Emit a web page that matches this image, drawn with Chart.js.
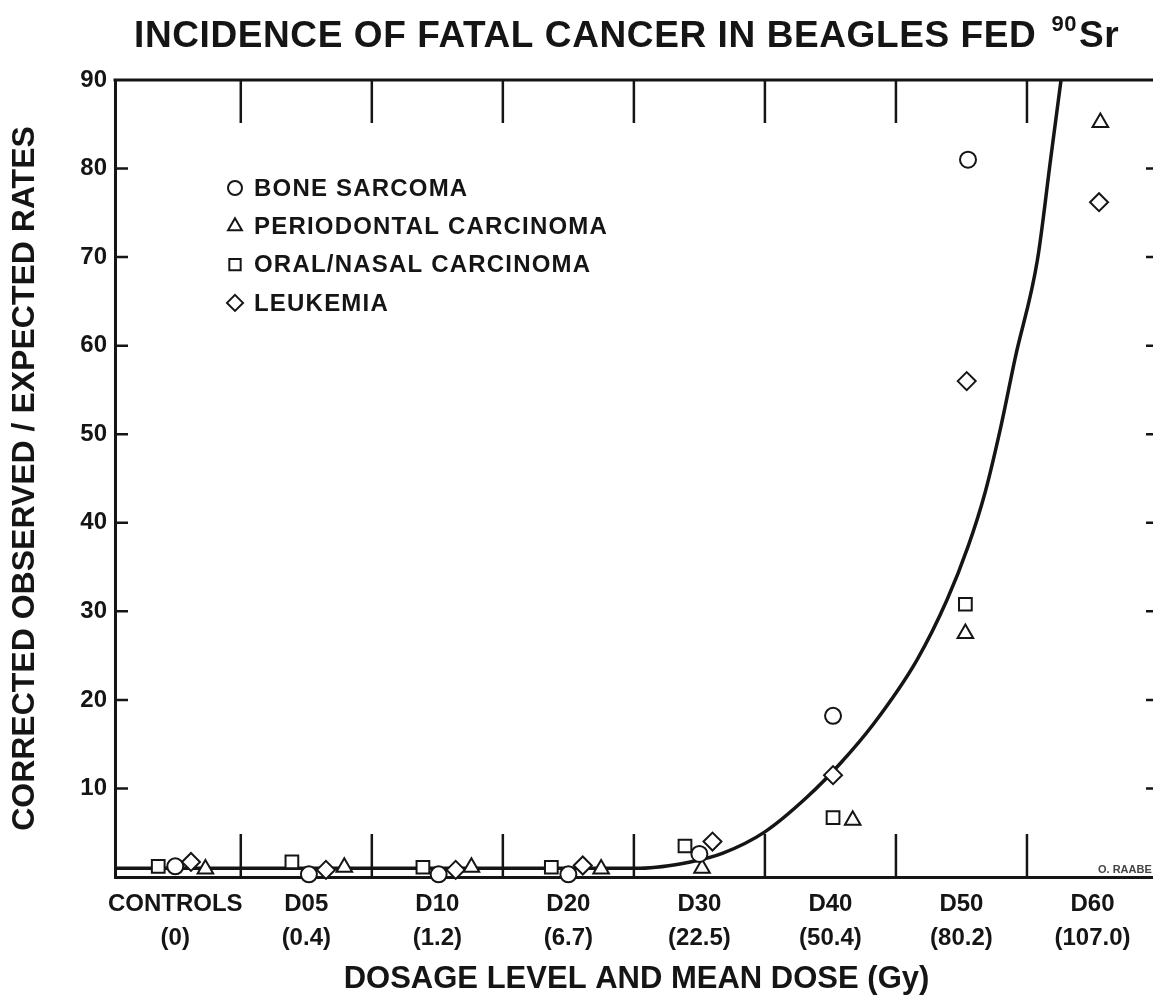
<!DOCTYPE html>
<html>
<head>
<meta charset="utf-8">
<title>Incidence of fatal cancer in beagles fed 90Sr</title>
<script src="https://cdn.jsdelivr.net/npm/chart.js@4.4.1/dist/chart.umd.min.js"></script>
<style>
  html, body { margin: 0; padding: 0; background: #fff; overflow: hidden; }
  #wrap { width: 1169px; height: 995px; }
</style>
</head>
<body>
<div id="wrap"><canvas id="myChart"></canvas></div>
<script>
const categories = [
  ['CONTROLS', '(0)'], ['D05', '(0.4)'], ['D10', '(1.2)'], ['D20', '(6.7)'],
  ['D30', '(22.5)'], ['D40', '(50.4)'], ['D50', '(80.2)'], ['D60', '(107.0)']
];
const yTicks = [10, 20, 30, 40, 50, 60, 70, 80, 90];

// x = dosage group index, markers sit a little apart inside each group
const boneX = [0.00, 1.02, 2.01, 3.00, 4.00, 5.02, 6.05];
const boneY = [1.2, 0.3, 0.3, 0.3, 2.6, 18.2, 81.0];
const perioX = [0.23, 1.29, 2.26, 3.25, 4.02, 5.17, 6.03, 7.06];
const perioY = [0.9, 1.1, 1.1, 0.9, 1.0, 6.4, 27.5, 85.2];
const oralX = [-0.13, 0.89, 1.89, 2.87, 3.89, 5.02, 6.03];
const oralY = [1.2, 1.7, 1.1, 1.1, 3.5, 6.7, 30.8];
const leukX = [0.12, 1.15, 2.14, 3.11, 4.10, 5.02, 6.04, 7.05];
const leukY = [1.7, 0.8, 0.8, 1.3, 4.0, 11.5, 56.0, 76.2];

// fitted curve as drawn in the figure
const fitX = [-0.46, 2.5, 3.55, 3.93, 4.18, 4.50, 4.82, 5.08, 5.33, 5.66, 5.89, 6.05, 6.18, 6.30, 6.41, 6.58, 6.68, 6.76];
const fitY = [1.0, 1.0, 1.0, 1.7, 2.7, 5.1, 9.0, 12.9, 17.3, 24.5, 31.3, 37.3, 43.4, 50.8, 58.6, 69.7, 81.0, 90.0];

const ink = '#151515';
const family = "'Liberation Sans', Arial, Helvetica, sans-serif";

function markers(label, style, radius, xs, ys) {
  return {
    label: label,
    data: xs.map((x, i) => ({ x: x, y: ys[i] })),
    pointStyle: style,
    pointRadius: radius,
    pointHoverRadius: radius,
    pointBorderWidth: 2,
    pointBorderColor: ink,
    pointBackgroundColor: '#fff',
    clip: false
  };
}

const decorations = {
  id: 'decorations',
  beforeDatasetsDraw(chart) {
    const { ctx, chartArea: a, scales: { x, y } } = chart;
    ctx.save();
    ctx.strokeStyle = ink;
    ctx.lineWidth = 3;
    ctx.beginPath();
    ctx.moveTo(a.left - 1.5, a.top);
    ctx.lineTo(a.right, a.top);
    ctx.stroke();

    // separators between dosage groups, hanging from top and standing on bottom
    ctx.lineWidth = 2.5;
    ctx.beginPath();
    for (let i = 1; i < categories.length; i++) {
      const px = x.getPixelForValue(i - 0.5);
      ctx.moveTo(px, a.top);
      ctx.lineTo(px, a.top + 43);
      ctx.moveTo(px, a.bottom);
      ctx.lineTo(px, a.bottom - 43);
    }
    // inward y ticks on both sides
    yTicks.forEach(v => {
      if (v >= y.max) return;
      const py = y.getPixelForValue(v);
      ctx.moveTo(a.left, py);
      ctx.lineTo(a.left + 13, py);
      ctx.moveTo(a.right, py);
      ctx.lineTo(a.right - 12, py);
    });
    ctx.stroke();
    ctx.restore();
  },
  afterDraw(chart) {
    const { ctx, chartArea: a } = chart;
    ctx.save();
    ctx.fillStyle = ink;

    // title with superscript isotope number
    const main = 'INCIDENCE OF FATAL CANCER IN BEAGLES FED';
    ctx.letterSpacing = '0.6px';
    ctx.font = 'bold 37px ' + family;
    const w1 = ctx.measureText(main).width;
    ctx.font = 'bold 22px ' + family;
    const w2 = ctx.measureText('90').width;
    const tx = 134;
    ctx.textBaseline = 'alphabetic';
    ctx.textAlign = 'left';
    ctx.font = 'bold 37px ' + family;
    ctx.fillText(main, tx, 47);
    ctx.font = 'bold 22px ' + family;
    ctx.fillText('90', tx + w1 + 15, 31);
    ctx.font = 'bold 37px ' + family;
    ctx.fillText('Sr', tx + w1 + w2 + 17, 47);

    // legend in the upper left of the plot
    const items = chart.data.datasets.filter(d => !d.showLine);
    ctx.font = 'bold 24px ' + family;
    ctx.letterSpacing = '1.2px';
    ctx.textBaseline = 'middle';
    items.forEach((d, i) => {
      const lx = a.left + 120;
      const ly = a.top + 108 + i * 38.3;
      ctx.lineWidth = 2;
      ctx.strokeStyle = ink;
      ctx.fillStyle = '#fff';
      Chart.helpers.drawPoint(ctx, { pointStyle: d.pointStyle, radius: d.pointRadius - 1, borderWidth: 2, rotation: 0 }, lx, ly);
      ctx.fillStyle = ink;
      ctx.fillText(d.label, lx + 19, ly + 1);
    });

    ctx.letterSpacing = '0px';
    ctx.font = 'bold 11px ' + family;
    ctx.fillStyle = '#444';
    ctx.textBaseline = 'alphabetic';
    ctx.fillText('O. RAABE', 1098, a.bottom - 4);
    ctx.restore();
  }
};

const ctx = document.getElementById('myChart').getContext('2d');
const myChart = new Chart(ctx, {
  type: 'scatter',
  data: {
    datasets: [
      markers('BONE SARCOMA', 'circle', 8, boneX, boneY),
      markers('PERIODONTAL CARCINOMA', 'triangle', 9, perioX, perioY),
      markers('ORAL/NASAL CARCINOMA', 'rect', 9, oralX, oralY),
      markers('LEUKEMIA', 'rectRot', 9, leukX, leukY),
      {
        label: 'fit',
        data: fitX.map((x, i) => ({ x: x, y: fitY[i] })),
        showLine: true,
        borderColor: ink,
        borderWidth: 3.5,
        pointRadius: 0,
        cubicInterpolationMode: 'monotone'
      }
    ]
  },
  options: {
    responsive: true,
    maintainAspectRatio: false,
    animation: false,
    events: [],
    layout: { padding: { top: 80, left: 0, right: 3, bottom: 0 } },
    plugins: {
      legend: { display: false },
      tooltip: { enabled: false }
    },
    scales: {
      x: {
        type: 'linear',
        min: -0.46,
        max: 7.5,
        afterBuildTicks: s => { s.ticks = categories.map((c, i) => ({ value: i })); },
        afterFit: s => { s.height = 118; },
        grid: { display: true, drawOnChartArea: false, drawTicks: false },
        border: { display: true, width: 3, color: ink },
        ticks: {
          autoSkip: false,
          maxRotation: 0,
          padding: 11,
          color: ink,
          font: { family: family, size: 24, weight: 'bold', lineHeight: 1.4 },
          callback: v => categories[v]
        },
        title: {
          display: true,
          text: 'DOSAGE LEVEL AND MEAN DOSE (Gy)',
          color: ink,
          padding: { top: 0, bottom: 0 },
          font: { family: family, size: 31, weight: 'bold', lineHeight: 1.0 }
        }
      },
      y: {
        min: 0,
        max: 90,
        afterBuildTicks: s => { s.ticks = yTicks.map(v => ({ value: v })); },
        afterFit: s => { s.width = 115; },
        grid: { display: true, drawOnChartArea: false, drawTicks: false },
        border: { display: true, width: 3, color: ink },
        ticks: {
          padding: 8,
          color: ink,
          font: { family: family, size: 24, weight: 'bold' }
        },
        title: {
          display: true,
          text: 'CORRECTED OBSERVED / EXPECTED RATES',
          color: ink,
          padding: { top: 9, bottom: 0 },
          font: { family: family, size: 32, weight: 'bold', lineHeight: 1.0 }
        }
      }
    }
  },
  plugins: [decorations]
});
</script>
</body>
</html>
